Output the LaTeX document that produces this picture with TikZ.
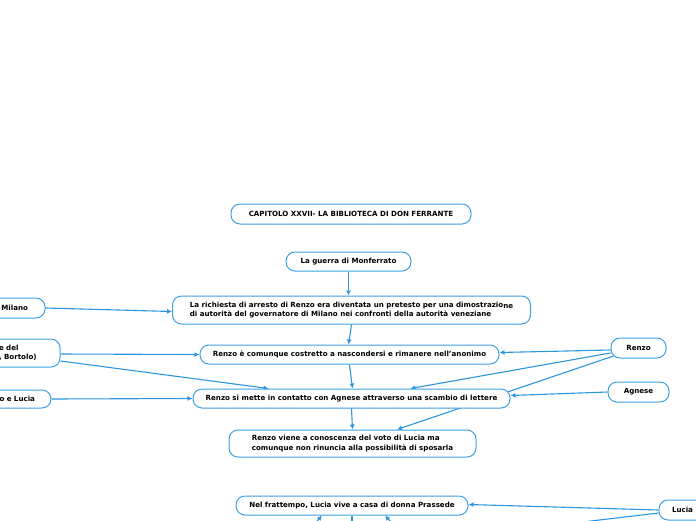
\documentclass[tikz,border=0pt]{standalone}
\usepackage{fontspec}
\setmainfont{DejaVu Sans}
\usetikzlibrary{arrows.meta}
\pgfdeclarelayer{bg}
\pgfsetlayers{bg,main}
\definecolor{lineblue}{RGB}{44,149,221}
\definecolor{boxblue}{RGB}{60,160,228}
\tikzset{
 box/.style={draw=boxblue, line width=1pt, rounded corners=9pt, fill=white,
   font=\bfseries\fontsize{7.1}{9.5}\selectfont, minimum height=20pt, inner sep=0pt},
 conn/.style={draw=lineblue, line width=1.1pt, -{Latex[length=5pt,width=5pt]}},
 stub/.style={draw=lineblue, line width=1.1pt},
}
\begin{document}
\begin{tikzpicture}[x=1pt,y=-1pt]
\useasboundingbox (0,0) rectangle (696,520);

\node[box, minimum width=240pt] (title) at (351,214) {CAPITOLO XXVII- LA BIBLIOTECA DI DON FERRANTE};
\node[box, minimum width=125pt, minimum height=19pt] (guerra) at (348.5,261.5) {La guerra di Monferrato};
\node[box, minimum width=358pt, minimum height=28pt, align=left] (richiesta) at (351.5,310)
  {La richiesta di arresto di Renzo era diventata un pretesto per una dimostrazio\raisebox{-1pt}{ne}\\di autorità del governatore di Milano nei confronti della autorità veneziane};
\node[box, minimum width=105pt, text width=71pt, align=right] (milano) at (-7.5,308) {Milano};
\node[box, minimum width=72pt, minimum height=28pt, text width=50pt, align=left] (edel) at (24,353) {e del\\, Bortolo)};
\node[box, minimum width=100pt, minimum height=18pt, text width=68pt, align=right] (olucia) at (1,399) {o e Lucia};
\node[box, minimum width=299pt, minimum height=19pt] (comunque) at (349.5,354.5) {Renzo è comunque costretto a nascondersi e rimanere nell'anonimo};
\node[box, minimum width=317pt, minimum height=19pt] (mette) at (351.5,398.5) {Renzo si mette in contatto con Agnese attraverso una scambio di lettere};
\node[box, minimum width=247pt, minimum height=27pt, align=left] (viene) at (352.5,443.5)
  {Renzo viene a conoscenza del voto di Lucia ma\\comunque non rinuncia alla possibilità di sposarla};
\node[box, minimum width=55pt] (renzo) at (638.5,348) {Renzo};
\node[box, minimum width=61pt] (agnese) at (638.5,392) {Agnese};
\node[box, minimum width=232pt, minimum height=19pt] (frattempo) at (352,505.5) {Nel frattempo, Lucia vive a casa di donna Prassede};
\node[box, minimum width=100pt, text width=74pt, align=left] (lucia) at (709,510) {Lucia};

\coordinate (lucout) at (405,543);
\coordinate (inA) at (296,545);
\coordinate (inB) at (412,545);
\coordinate (outC) at (352,548);

\begin{pgfonlayer}{bg}
\draw[conn] (guerra.south) -- ([xshift=-3pt]richiesta.north);
\draw[conn] (milano.east) -- ([yshift=-1.5pt]richiesta.west);
\draw[conn] (richiesta.south) -- ([xshift=-1pt]comunque.north);
\draw[conn] ([yshift=-1pt]edel.east) -- (comunque.west);
\draw[conn] ([yshift=-8pt]edel.east) -- ([xshift=-83pt]mette.north);
\draw[conn] (olucia.east) -- (mette.west);
\draw[conn] ([yshift=-2pt]renzo.west) -- ([yshift=2pt]comunque.east);
\draw[conn] ([yshift=-5pt]renzo.west) -- ([xshift=59pt]mette.north);
\draw[conn] ([xshift=3pt,yshift=-8pt]renzo.west) -- ([xshift=44.5pt]viene.north);
\draw[conn] (comunque.south) -- ([xshift=1pt]mette.north);
\draw[conn] (agnese.west) -- ([yshift=3pt]mette.east);
\draw[conn] (mette.south) -- (viene.north);
\draw[conn] (lucia.west) -- ([yshift=1pt]frattempo.east);
\draw[stub] ([yshift=-3pt]lucia.west) -- (lucout);
\draw[conn] (inA) -- ([xshift=-30pt]frattempo.south);
\draw[conn] (inB) -- ([xshift=33pt]frattempo.south);
\draw[stub] (frattempo.south) -- (outC);
\end{pgfonlayer}
\end{tikzpicture}
\end{document}
